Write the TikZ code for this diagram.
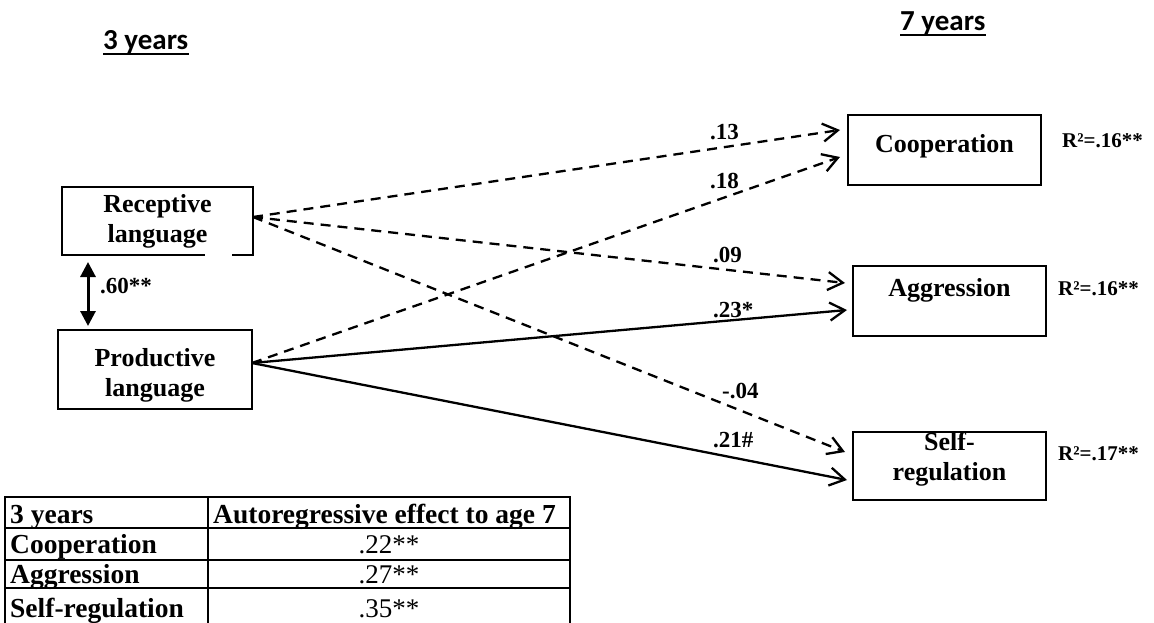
\documentclass[tikz,border=0pt]{standalone}
\usepackage{fontspec}
\setmainfont{Liberation Serif}
\newfontfamily\headfont{Carlito}
\usetikzlibrary{arrows.meta}

\begin{document}
\begin{tikzpicture}[x=1pt,y=-1pt,
  box/.style={draw, line width=2.6pt, inner sep=0pt},
  btext/.style={font=\bfseries\fontsize{26}{30}\selectfont, align=center, inner sep=0pt},
  lbl/.style={font=\bfseries\fontsize{23}{26}\selectfont, inner sep=0pt, anchor=base west},
  rsq/.style={font=\bfseries\fontsize{21}{24}\selectfont, inner sep=0pt, anchor=base west},
  head/.style={font=\headfont\bfseries\fontsize{29}{34}\selectfont, inner sep=0pt, anchor=base west},
  tb/.style={font=\bfseries\fontsize{27.5}{30}\selectfont, inner sep=0pt, anchor=base west},
  tv/.style={font=\fontsize{27}{30}\selectfont, inner sep=0pt, anchor=base},
  rule/.style={line width=2.3pt},
  eff/.style={line width=2.3pt, -{Straight Barb[length=15pt,width=18pt]}},
  dsh/.style={eff, dash pattern=on 10pt off 7pt},
  corr/.style={line width=3pt, {Triangle[length=15pt,width=15pt]}-{Triangle[length=15pt,width=15pt]}}]

\useasboundingbox (0,0) rectangle (1154,623);

% time headings
\node[head] (h3) at (103,50) {3 years};
\draw[line width=2.2pt] ([yshift=-4pt]h3.base west) -- ([yshift=-4pt]h3.base east);
\node[head] (h7) at (900,31) {7 years};
\draw[line width=2.2pt] ([yshift=-4pt]h7.base west) -- ([yshift=-4pt]h7.base east);

% predictors at age 3
\node[box, minimum width=191pt, minimum height=68pt] (rec) at (157.5,221) {};
\fill[white] (205,251) rectangle (232,259);
\node[btext] (recT) at (157.5,221) {Receptive\\language};
\node[box, minimum width=194pt, minimum height=79pt] (prod) at (155,369.5) {};
\node[btext] (prodT) at (155,375) {Productive\\language};

% outcomes at age 7
\node[box, minimum width=193pt, minimum height=70pt] (coop) at (944.5,150) {};
\node[btext, anchor=base] (coopT) at (944.5,153) {Cooperation};
\node[box, minimum width=193pt, minimum height=70pt] (aggr) at (949.5,301) {};
\node[btext, anchor=base] (aggrT) at (949.5,296) {Aggression};
\node[box, minimum width=193pt, minimum height=68pt] (self) at (949.5,466) {};
\node[btext] (selfT) at (949.5,459) {Self-\\regulation};

% explained variance
\node[rsq] (r1) at (1062,148) {R²=.16**};
\node[rsq] (r2) at (1058,295) {R²=.16**};
\node[rsq] (r3) at (1058,460) {R²=.17**};

% ports
\coordinate (rs) at (253,217);
\coordinate (ps) at (252,363);
\coordinate (c1) at (840,130);
\coordinate (c2) at (840,157);
\coordinate (a1) at (845,283);
\coordinate (a2) at (847,310);
\coordinate (s1) at (845,452);
\coordinate (s2) at (847,480);
\coordinate (d1) at (88,262);
\coordinate (d2) at (88,326);

% paths
\draw[dsh] (rs) -- (c1);
\draw[dsh] (ps) -- (c2);
\draw[dsh] (rs) -- (a1);
\draw[eff] (ps) -- (a2);
\draw[dsh] (rs) -- (s1);
\draw[eff] (ps) -- (s2);
\draw[corr] (d1) -- (d2);

% coefficients
\node[lbl] (l1) at (710,140) {.13};
\node[lbl] (l2) at (710,188) {.18};
\node[lbl] (l3) at (713,262) {.09};
\node[lbl] (l4) at (713,317) {.23*};
\node[lbl] (l5) at (722,398) {-.04};
\node[lbl] (l6) at (713,447) {.21\#};
\node[lbl] (l7) at (100,293) {.60**};

% autoregressive effects table
\draw[rule] (5,497) -- (570,497);
\draw[rule] (5,528) -- (570,528);
\draw[rule] (5,560) -- (570,560);
\draw[rule] (5,588) -- (570,588);
\draw[rule] (5,496) -- (5,626);
\draw[rule] (208,496) -- (208,626);
\draw[rule] (570,496) -- (570,626);
\node[tb] (t0) at (10,523) {3 years};
\node[tb] (t1) at (213,523) {Autoregressive effect to age 7};
\node[tb] (t2) at (10,553) {Cooperation};
\node[tb] (t3) at (10,583) {Aggression};
\node[tb] (t4) at (10,617) {Self-regulation};
\node[tv] (v2) at (389,553) {.22**};
\node[tv] (v3) at (389,583) {.27**};
\node[tv] (v4) at (389,617) {.35**};
\end{tikzpicture}
\end{document}
